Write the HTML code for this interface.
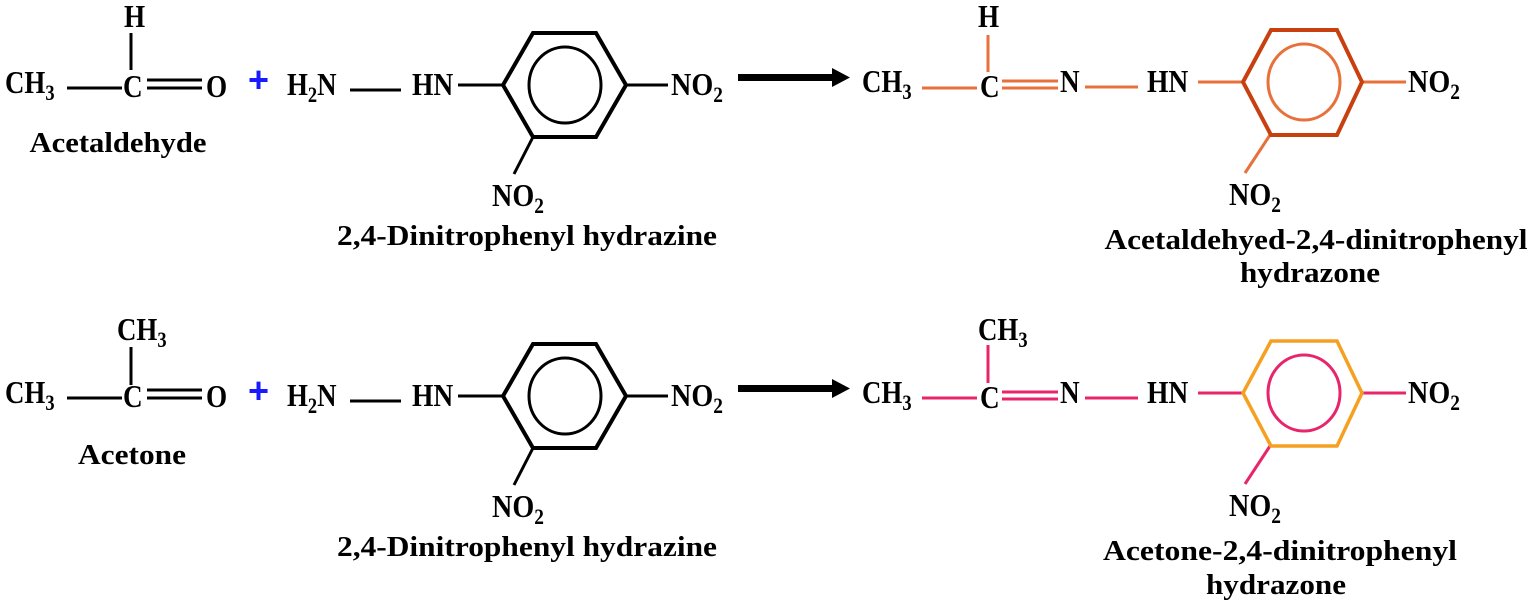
<!DOCTYPE html>
<html><head><meta charset="utf-8"><style>
html,body{margin:0;padding:0;background:#fff;}
svg{display:block}
text{font-family:"Liberation Serif",serif;font-weight:bold;fill:#000;}
.f{font-size:32px}
.s{font-size:22px}
.l{font-size:29px}
</style></head><body>
<svg width="1534" height="608" viewBox="0 0 1534 608" xmlns="http://www.w3.org/2000/svg">
<defs>
<g id="dnph">
  <text class="f" transform="translate(287,95) scale(.84,1)">H<tspan class="s" dy="7">2</tspan><tspan dy="-7">N</tspan></text>
  <line x1="350" y1="90" x2="401" y2="90" stroke="#000" stroke-width="3"/>
  <text class="f" transform="translate(412,95) scale(.86,1)">HN</text>
  <line x1="458" y1="85" x2="503" y2="85" stroke="#000" stroke-width="3"/>
  <polygon points="503,85 533,33 596,33 626,85 596,137 533,137" fill="none" stroke="#000" stroke-width="4"/>
  <ellipse cx="565" cy="85" rx="36" ry="38" fill="none" stroke="#000" stroke-width="3"/>
  <line x1="626" y1="85" x2="668" y2="85" stroke="#000" stroke-width="3"/>
  <text class="f" transform="translate(671,95) scale(.88,1)">NO<tspan class="s" dy="7">2</tspan></text>
  <line x1="533" y1="137" x2="514" y2="174" stroke="#000" stroke-width="3"/>
  <text class="f" transform="translate(492,206) scale(.88,1)">NO<tspan class="s" dy="7">2</tspan></text>
  <text class="l" x="527" y="245" text-anchor="middle" textLength="380" lengthAdjust="spacingAndGlyphs">2,4-Dinitrophenyl hydrazine</text>
  <text x="248" y="92" style="font-family:'Liberation Sans',sans-serif;font-size:36px;fill:#1a1aff">+</text>
  <rect x="738" y="74" width="96" height="7" fill="#000"/>
  <polygon points="832,68 850,77.5 832,87" fill="#000"/>
</g>
</defs>

<!-- Row 1 reactants -->
<text class="f" transform="translate(124,27) scale(.85,1)">H</text>
<line x1="131" y1="33" x2="131" y2="70" stroke="#000" stroke-width="3"/>
<text class="f" transform="translate(5,93) scale(.84,1)">CH<tspan class="s" dy="7">3</tspan></text>
<line x1="67" y1="88" x2="122" y2="88" stroke="#000" stroke-width="3"/>
<text class="f" transform="translate(123,97) scale(.85,1)">C</text>
<line x1="147" y1="80" x2="202" y2="80" stroke="#000" stroke-width="3"/>
<line x1="147" y1="88" x2="202" y2="88" stroke="#000" stroke-width="3"/>
<text class="f" transform="translate(206,97) scale(.85,1)">O</text>
<text class="l" x="118" y="152" text-anchor="middle" textLength="177" lengthAdjust="spacingAndGlyphs">Acetaldehyde</text>
<use href="#dnph"/>

<!-- Row 1 product -->
<g stroke="#E8703A" stroke-width="3">
  <line x1="988" y1="35" x2="988" y2="72"/>
  <line x1="922" y1="88" x2="977" y2="88"/>
  <line x1="1002" y1="81" x2="1058" y2="81"/>
  <line x1="1002" y1="88" x2="1058" y2="88"/>
  <line x1="1085" y1="87" x2="1138" y2="87"/>
  <line x1="1198" y1="82" x2="1243" y2="82"/>
  <line x1="1362" y1="82" x2="1406" y2="82"/>
  <line x1="1270" y1="135" x2="1245" y2="173"/>
  <ellipse cx="1304" cy="82" rx="36" ry="38" fill="none"/>
</g>
<polygon points="1243,82 1271,30 1337,30 1362,82 1337,135 1271,135" fill="none" stroke="#C8400F" stroke-width="4"/>
<text class="f" transform="translate(978,27) scale(.85,1)">H</text>
<text class="f" transform="translate(862,92) scale(.84,1)">CH<tspan class="s" dy="7">3</tspan></text>
<text class="f" transform="translate(980,97) scale(.85,1)">C</text>
<text class="f" transform="translate(1060,92) scale(.85,1)">N</text>
<text class="f" transform="translate(1147,92) scale(.86,1)">HN</text>
<text class="f" transform="translate(1408,92) scale(.88,1)">NO<tspan class="s" dy="7">2</tspan></text>
<text class="f" transform="translate(1229,205) scale(.88,1)">NO<tspan class="s" dy="7">2</tspan></text>
<text class="l" x="1316" y="249" text-anchor="middle" textLength="423" lengthAdjust="spacingAndGlyphs">Acetaldehyed-2,4-dinitrophenyl</text>
<text class="l" x="1310" y="282" text-anchor="middle" textLength="140" lengthAdjust="spacingAndGlyphs">hydrazone</text>

<!-- Row 2 reactants -->
<text class="f" transform="translate(117,340) scale(.84,1)">CH<tspan class="s" dy="7">3</tspan></text>
<line x1="131" y1="347" x2="131" y2="385" stroke="#000" stroke-width="3"/>
<text class="f" transform="translate(5,403) scale(.84,1)">CH<tspan class="s" dy="7">3</tspan></text>
<line x1="67" y1="398" x2="122" y2="398" stroke="#000" stroke-width="3"/>
<text class="f" transform="translate(123,407) scale(.85,1)">C</text>
<line x1="147" y1="390" x2="202" y2="390" stroke="#000" stroke-width="3"/>
<line x1="147" y1="398" x2="202" y2="398" stroke="#000" stroke-width="3"/>
<text class="f" transform="translate(206,407) scale(.85,1)">O</text>
<text class="l" x="132" y="464" text-anchor="middle" textLength="108" lengthAdjust="spacingAndGlyphs">Acetone</text>
<use href="#dnph" transform="translate(0,311)"/>

<!-- Row 2 product -->
<g stroke="#E8256A" stroke-width="3">
  <line x1="988" y1="345" x2="988" y2="383"/>
  <line x1="922" y1="398" x2="977" y2="398"/>
  <line x1="1002" y1="392" x2="1058" y2="392"/>
  <line x1="1002" y1="399" x2="1058" y2="399"/>
  <line x1="1085" y1="398" x2="1138" y2="398"/>
  <line x1="1198" y1="393" x2="1243" y2="393"/>
  <line x1="1362" y1="393" x2="1406" y2="393"/>
  <line x1="1270" y1="446" x2="1245" y2="484"/>
  <ellipse cx="1304" cy="393" rx="36" ry="38" fill="none"/>
</g>
<polygon points="1243,393 1271,341 1337,341 1362,393 1337,446 1271,446" fill="none" stroke="#F5A020" stroke-width="3.5"/>
<text class="f" transform="translate(978,340) scale(.84,1)">CH<tspan class="s" dy="7">3</tspan></text>
<text class="f" transform="translate(862,403) scale(.84,1)">CH<tspan class="s" dy="7">3</tspan></text>
<text class="f" transform="translate(980,408) scale(.85,1)">C</text>
<text class="f" transform="translate(1060,403) scale(.85,1)">N</text>
<text class="f" transform="translate(1147,403) scale(.86,1)">HN</text>
<text class="f" transform="translate(1408,403) scale(.88,1)">NO<tspan class="s" dy="7">2</tspan></text>
<text class="f" transform="translate(1229,516) scale(.88,1)">NO<tspan class="s" dy="7">2</tspan></text>
<text class="l" x="1280" y="560" text-anchor="middle" textLength="354" lengthAdjust="spacingAndGlyphs">Acetone-2,4-dinitrophenyl</text>
<text class="l" x="1276" y="594" text-anchor="middle" textLength="140" lengthAdjust="spacingAndGlyphs">hydrazone</text>
</svg>
</body></html>
